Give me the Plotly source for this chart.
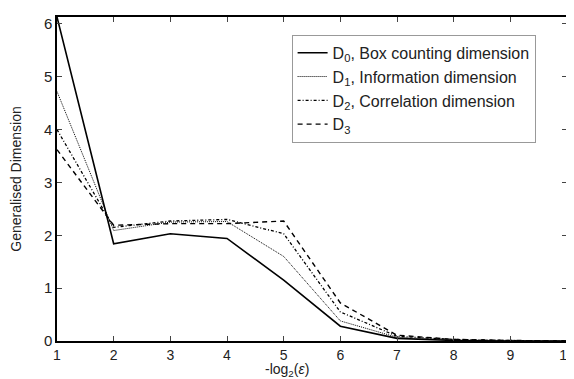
import plotly.graph_objects as go

x_vals = [1, 2, 3, 4, 5, 6, 7, 8, 9, 10]
d0 = [6.13, 1.84, 2.03, 1.94, 1.15, 0.28, 0.05, 0.01, 0.0, 0.0]
d1 = [4.72, 2.09, 2.25, 2.26, 1.60, 0.38, 0.07, 0.02, 0.01, 0.0]
d2 = [4.00, 2.15, 2.27, 2.30, 2.03, 0.55, 0.09, 0.03, 0.01, 0.0]
d3 = [3.62, 2.19, 2.22, 2.22, 2.27, 0.72, 0.11, 0.03, 0.01, 0.0]

names = ["D<sub>0</sub>, Box counting dimension",
         "D<sub>1</sub>, Information dimension",
         "D<sub>2</sub>, Correlation dimension",
         "D<sub>3</sub>"]
dashes = ["solid", "1px,1px", "3px,2px,1px,2px", "5px,4px"]
widths = [1.6, 1.0, 1.3, 1.4]

fig = go.Figure()
for ys, nm, ds, w in zip([d0, d1, d2, d3], names, dashes, widths):
    fig.add_trace(go.Scatter(x=x_vals, y=ys, mode="lines", name=nm,
                             line=dict(color="black", dash=ds, width=w)))

fig.update_layout(
    width=574, height=379,
    margin=dict(l=49, r=7, t=7, b=46),
    paper_bgcolor="white", plot_bgcolor="white",
    font=dict(family="Liberation Sans, Arial, sans-serif", size=15, color="#222"),
    legend=dict(x=0.46, y=0.945, xanchor="left", yanchor="top",
                bordercolor="#999", borderwidth=1, bgcolor="white",
                font=dict(size=16), tracegroupgap=0, itemwidth=30),
    showlegend=True,
)
fig.add_annotation(text="-log<sub>2</sub>(<i>ε</i>)", xref="paper", yref="paper",
                   x=0.45, y=-0.088, xanchor="center", yanchor="middle",
                   showarrow=False, font=dict(size=14))
fig.update_xaxes(range=[1, 10], tickvals=x_vals, ticks="inside", ticklen=5,
                 showline=True, linecolor="black", linewidth=1.5, mirror="ticks",
                 showgrid=False, zeroline=False, tickfont=dict(size=14))
fig.update_yaxes(range=[0, 6.13], tickvals=[0, 1, 2, 3, 4, 5, 6], ticks="inside", ticklen=5,
                 showline=True, linecolor="black", linewidth=1.5, mirror="ticks",
                 showgrid=False, zeroline=False, tickfont=dict(size=15),
                 title=dict(text="Generalised Dimension", standoff=19, font=dict(size=14)))

fig.write_html("out.html")
